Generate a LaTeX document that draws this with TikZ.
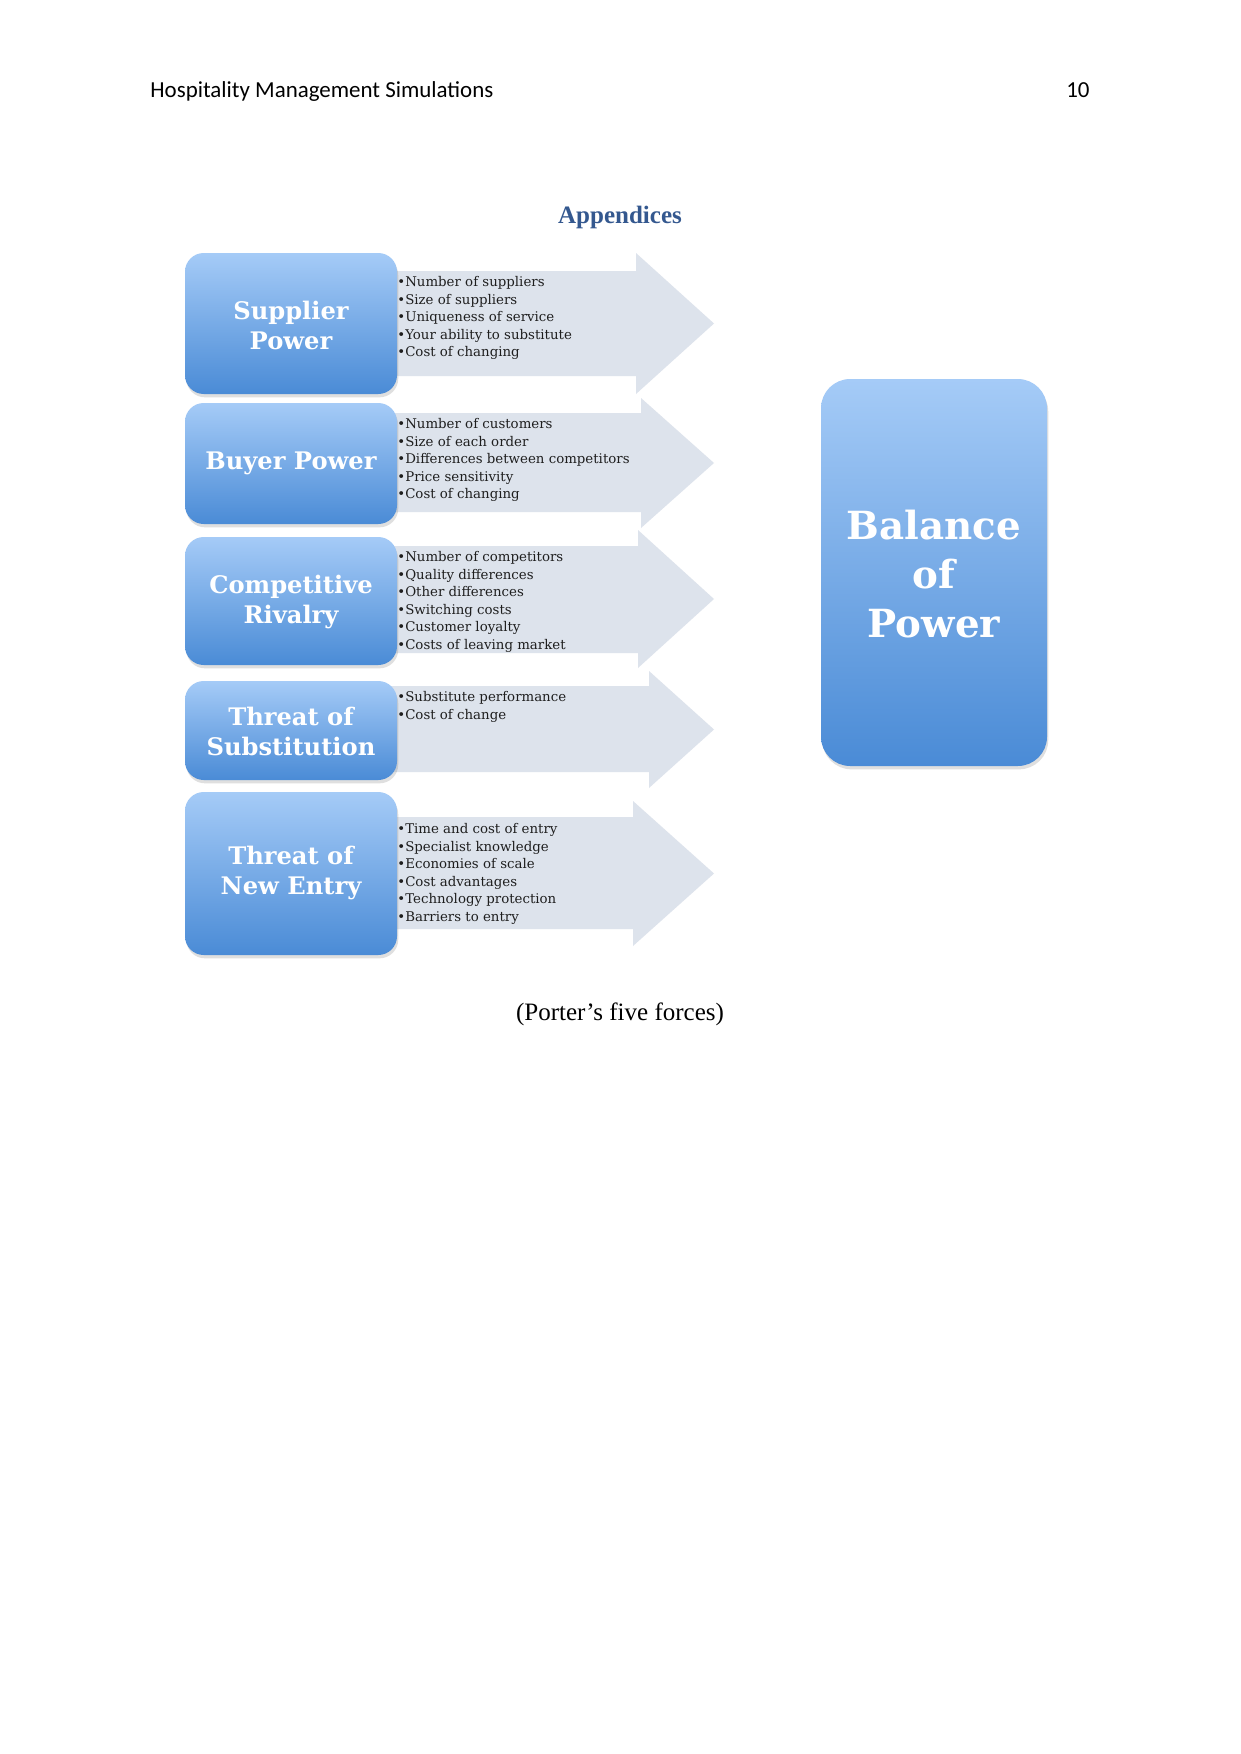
\documentclass[tikz,border=0pt]{standalone}
\usepackage{fontspec}
\setmainfont{Liberation Serif}
\newfontfamily\hdrfont{Carlito}
\newfontfamily\boxfont{DejaVu Serif}
\usetikzlibrary{shadows}
\definecolor{arrowgray}{RGB}{221,227,236}
\definecolor{boxtop}{RGB}{165,203,247}
\definecolor{boxbot}{RGB}{74,139,214}
\definecolor{headblue}{RGB}{52,88,143}
\definecolor{bullettext}{RGB}{30,30,30}
\tikzset{
  forcebox/.style={rounded corners=9pt, top color=boxtop, bottom color=boxbot,
    drop shadow={opacity=0.25, shadow xshift=0.6pt, shadow yshift=-1.6pt}},
  forcearrow/.style={fill=arrowgray, draw=none},
  forcetitle/.style={text=white, font=\boxfont\bfseries\fontsize{11.6}{14.4}\selectfont, align=center},
  bullets/.style={text=bullettext, font=\boxfont\fontsize{6.4}{8.44}\selectfont, align=left, anchor=north west, inner sep=0pt},
}
\newcommand{\bl}{\textbullet}
\begin{document}
\begin{tikzpicture}[x=0.4797pt,y=-0.4797pt]
\path[fill=white] (0,0) rectangle (1241,1754);
\useasboundingbox (0,0) rectangle (1241,1754);

% header
\node[anchor=base west, inner sep=0pt, font=\hdrfont\fontsize{11}{13}\selectfont] (hdr) at (150,97.5) {Hospitality Management Simulations};
\node[anchor=base east, inner sep=0pt, font=\hdrfont\fontsize{11}{13}\selectfont] (pg) at (1090,97.5) {10};
\node[anchor=base, inner sep=0pt, font=\bfseries\fontsize{12}{14}\selectfont, text=headblue] (app) at (620,223) {Appendices};

% arrows
\path[forcearrow] (300,271) -- (636,271) -- (636,253) -- (714,323.5) -- (636,394) -- (636,376) -- (300,376) -- cycle;
\path[forcearrow] (300,413) -- (641,413) -- (641,398) -- (714,463) -- (641,528) -- (641,512) -- (300,512) -- cycle;
\path[forcearrow] (300,546) -- (638,546) -- (638,530) -- (714,599) -- (638,668) -- (638,653) -- (300,653) -- cycle;
\path[forcearrow] (300,686) -- (649,686) -- (649,671) -- (714,729.5) -- (649,788) -- (649,772) -- (300,772) -- cycle;
\path[forcearrow] (300,817) -- (633,817) -- (633,801) -- (714,873.5) -- (633,946) -- (633,929) -- (300,929) -- cycle;

% boxes
\path[forcebox] (185,253) rectangle (397,394);
\path[forcebox] (185,403) rectangle (397,524);
\path[forcebox] (185,537) rectangle (397,665);
\path[forcebox] (185,681) rectangle (397,780);
\path[forcebox] (185,792) rectangle (397,955);
\path[forcebox, rounded corners=14pt] (821,379) rectangle (1047,766);

\node[forcetitle] (sup) at (291,325) {Supplier\\Power};
\node[forcetitle] (buy) at (291,463.5) {Buyer Power};
\node[forcetitle] (riv) at (291,602) {Competitive\\Rivalry};
\node[forcetitle] (sub) at (291,731) {Threat of\\Substitution};
\node[forcetitle] (new) at (291,873) {Threat of\\New Entry};
\node[text=white, font=\boxfont\bfseries\fontsize{18.6}{23.6}\selectfont, align=center] (bal) at (934,574) {Balance\\of\\Power};

% bullet lists
\node[bullets] (l1) at (397,276) {\bl Number of suppliers\\\bl Size of suppliers\\\bl Uniqueness of service\\\bl Your ability to substitute\\\bl Cost of changing};
\node[bullets] (l2) at (397,418) {\bl Number of customers\\\bl Size of each order\\\bl Differences between competitors\\\bl Price sensitivity\\\bl Cost of changing};
\node[bullets] (l3) at (397,551) {\bl Number of competitors\\\bl Quality differences\\\bl Other differences\\\bl Switching costs\\\bl Customer loyalty\\\bl Costs of leaving market};
\node[bullets] (l4) at (397,691) {\bl Substitute performance\\\bl Cost of change};
\node[bullets] (l5) at (397,823) {\bl Time and cost of entry\\\bl Specialist knowledge\\\bl Economies of scale\\\bl Cost advantages\\\bl Technology protection\\\bl Barriers to entry};

% caption
\node[anchor=base, inner sep=0pt, font=\fontsize{12}{14}\selectfont] (cap) at (620,1020) {(Porter’s five forces)};
\end{tikzpicture}
\end{document}
